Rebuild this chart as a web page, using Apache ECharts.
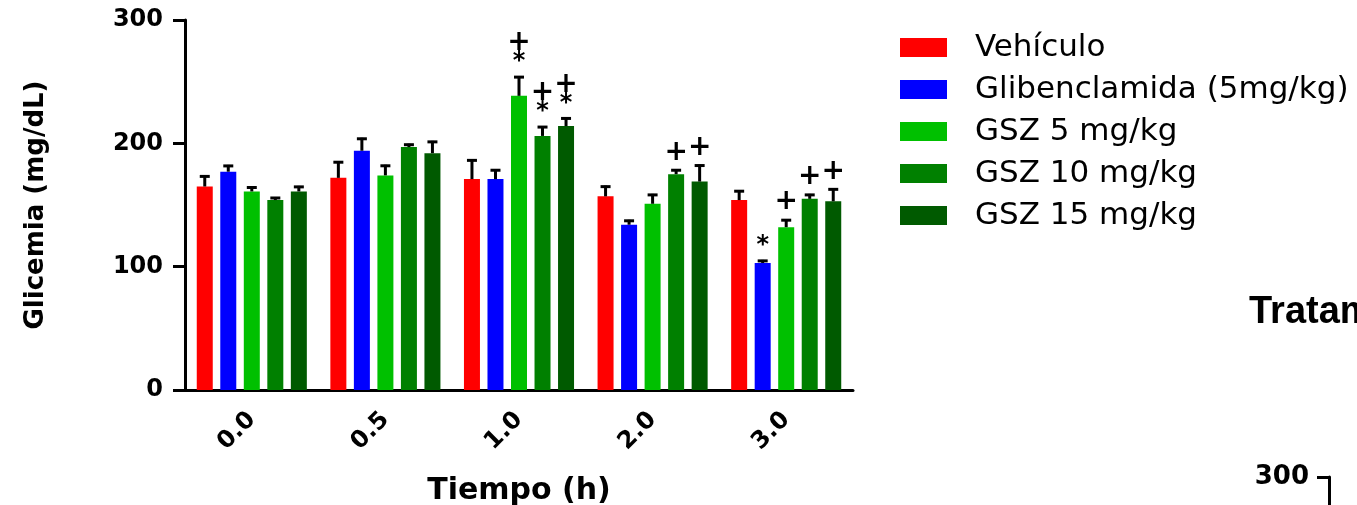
<!DOCTYPE html>
<html><head><meta charset="utf-8">
<script src="https://cdn.jsdelivr.net/npm/echarts@6/dist/echarts.min.js"></script>
<style>html,body{margin:0;padding:0;background:#fff;overflow:hidden}#c{width:1357px;height:505px}</style>
</head><body><div id="c"></div>
<script>
// ---- data ----
const categories = ['0.0', '0.5', '1.0', '2.0', '3.0'];
const seriesNames = ['Vehículo', 'Glibenclamida (5mg/kg)', 'GSZ 5 mg/kg', 'GSZ 10 mg/kg', 'GSZ 15 mg/kg'];
const vehiculo     = [165, 172, 171, 157, 154];
const vehiculoSem  = [9, 13.5, 16, 8.7, 8];
const gliben       = [177, 194, 171, 134, 103];
const glibenSem    = [5.5, 10.5, 8, 4, 2.5];
const gsz5         = [161, 174, 238.5, 151, 132];
const gsz5Sem      = [4, 8.6, 16, 8, 6.5];
const gsz10        = [154, 197, 206, 175, 155];
const gsz10Sem     = [2.5, 2.7, 8, 4, 4];
const gsz15        = [161, 192, 214, 169, 153];
const gsz15Sem     = [4.5, 10, 7, 13.8, 10.5];
// significance marks (top to bottom)
const vehiculoSig  = ['', '', '', '', ''];
const glibenSig    = ['', '', '', '', '*'];
const gsz5Sig      = ['', '', '+*', '', '+'];
const gsz10Sig     = ['', '', '+*', '+', '+'];
const gsz15Sig     = ['', '', '+*', '+', '+'];
const yTicks = [0, 100, 200, 300];
const xAxisTitle = 'Tiempo (h)';
const yAxisTitle = 'Glicemia (mg/dL)';
const nextPanelTitle = 'Tratamiento';

// ---- styling ----
const colors = ['#ff0000', '#0000ff', '#00c000', '#008000', '#005a00'];
const means = [vehiculo, gliben, gsz5, gsz10, gsz15];
const sems = [vehiculoSem, glibenSem, gsz5Sem, gsz10Sem, gsz15Sem];
const sigs = [vehiculoSig, glibenSig, gsz5Sig, gsz10Sig, gsz15Sig];
const BAR_W = 16, BAR_GAP = 0.47;
const PITCH = BAR_W * (1 + BAR_GAP);
const FONT = 'DejaVu Sans';

const errData = [];
const sigData = [];
means.forEach((arr, s) => arr.forEach((m, c) => {
  errData.push([c, s, m, sems[s][c]]);
  if (sigs[s][c]) sigData.push({ value: [c, s, m + sems[s][c]], marks: sigs[s][c] });
}));

const chart = echarts.init(document.getElementById('c'));
const barSeries = seriesNames.map((name, s) => ({
  name, type: 'bar', data: means[s], barWidth: BAR_W, barGap: (BAR_GAP * 100) + '%',
  itemStyle: { color: colors[s] }, xAxisIndex: 0, yAxisIndex: 0
}));

chart.setOption({
  animation: false,
  backgroundColor: '#ffffff',
  title: { text: nextPanelTitle, left: 1244, top: 289,
    textStyle: { fontFamily: 'Liberation Sans', fontWeight: 'bold', fontSize: 38, color: '#000' } },
  legend: {
    data: seriesNames, orient: 'vertical', left: 895, top: 27,
    itemWidth: 47, itemHeight: 19, itemGap: 11,
    icon: 'rect',
    textStyle: { fontFamily: FONT, fontSize: 31, color: '#000', padding: [0, 0, 0, 23] }
  },
  grid: [
    { left: 185, top: 20, width: 668, height: 370, containLabel: false, outerBoundsMode: 'none' },
    { left: 1329, top: 477, width: 20, height: 300, containLabel: false, outerBoundsMode: 'none' }
  ],
  xAxis: [{
    type: 'category', data: categories, gridIndex: 0,
    name: xAxisTitle, nameLocation: 'middle', nameGap: 86,
    nameTextStyle: { fontFamily: FONT, fontWeight: 'bold', fontSize: 30, color: '#000' },
    axisLine: { lineStyle: { color: '#000', width: 3 } },
    axisTick: { alignWithLabel: true, length: 12, lineStyle: { width: 3, color: '#000' } },
    axisLabel: { rotate: 45, margin: 26, fontFamily: FONT, fontWeight: 'bold', fontSize: 24, color: '#000' }
  }, {
    type: 'category', data: ['a'], gridIndex: 1, show: false
  }],
  yAxis: [{
    type: 'value', min: 0, max: 300, interval: 100, gridIndex: 0,
    name: yAxisTitle, nameLocation: 'middle', nameGap: 136,
    nameTextStyle: { fontFamily: FONT, fontWeight: 'bold', fontSize: 26, color: '#000' },
    axisLine: { show: true, lineStyle: { color: '#000', width: 3 } },
    axisTick: { show: true, length: 12, lineStyle: { width: 3, color: '#000' } },
    splitLine: { show: false },
    axisLabel: { margin: 22, fontFamily: FONT, fontWeight: 'bold', fontSize: 24, color: '#000',
      formatter: v => yTicks.includes(v) ? String(v) : '' }
  }, {
    type: 'value', min: 0, max: 300, interval: 100, gridIndex: 1,
    axisLine: { show: true, lineStyle: { color: '#000', width: 3 } },
    axisTick: { show: true, length: 12, lineStyle: { width: 3, color: '#000' } },
    splitLine: { show: false },
    axisLabel: { margin: 20, fontFamily: FONT, fontWeight: 'bold', fontSize: 26, color: '#000' }
  }],
  series: [...barSeries, {
    type: 'custom', name: 'err', xAxisIndex: 0, yAxisIndex: 0, z: 5, silent: true,
    data: errData,
    renderItem: (params, api) => {
      const c = api.value(0), s = api.value(1), m = api.value(2), e = api.value(3);
      const p0 = api.coord([c, m]), p1 = api.coord([c, m + e]);
      const x = p0[0] + (s - 2) * PITCH;
      return { type: 'group', children: [
        { type: 'line', shape: { x1: x, y1: p0[1], x2: x, y2: p1[1] }, style: { stroke: '#000', lineWidth: 3 } },
        { type: 'line', shape: { x1: x - 5, y1: p1[1] + 1, x2: x + 5, y2: p1[1] + 1 }, style: { stroke: '#000', lineWidth: 3 } }
      ] };
    }
  }, {
    type: 'custom', name: 'sig', xAxisIndex: 0, yAxisIndex: 0, z: 6, silent: true,
    data: sigData,
    renderItem: (params, api) => {
      const c = api.value(0), s = api.value(1), top = api.value(2);
      const p = api.coord([c, top]);
      const x = p[0] + (s - 2) * PITCH;
      const marks = sigData[params.dataIndex].marks.split('');
      const children = [];
      let y = p[1] - 17;
      for (let i = marks.length - 1; i >= 0; i--) {
        const ch = marks[i];
        children.push({ type: 'text', style: { text: ch, x: x, y: ch === '*' ? y + 3 : y,
          align: 'center', verticalAlign: 'middle', fill: '#000',
          font: (ch === '*' ? 'bold 24px ' : 'bold 28px ') + '"DejaVu Sans"' } });
        y -= 16;
      }
      return { type: 'group', children };
    }
  }]
});
</script></body></html>
